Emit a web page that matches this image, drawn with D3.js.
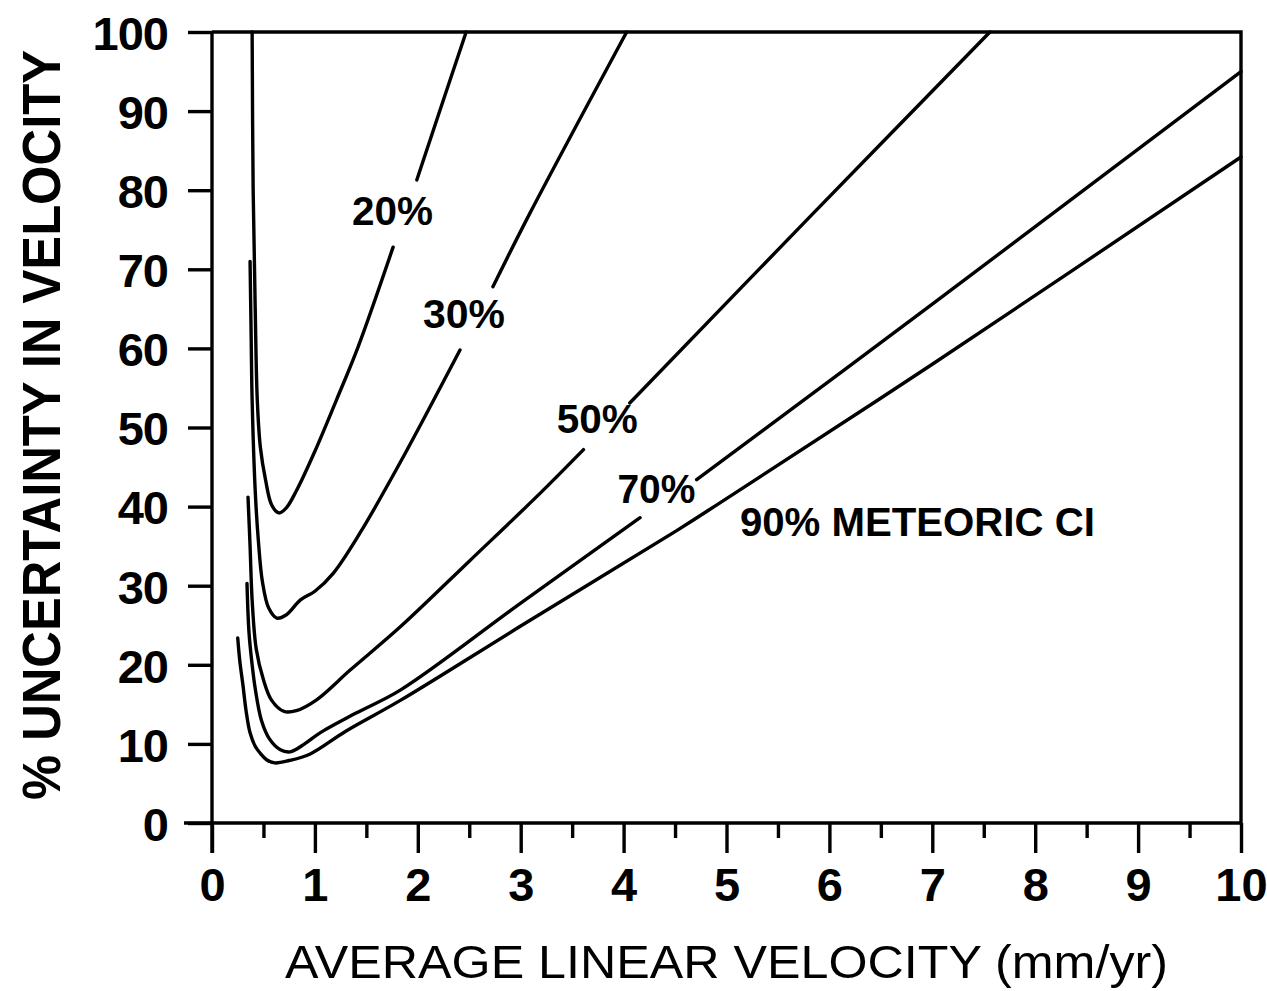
<!DOCTYPE html>
<html>
<head>
<meta charset="utf-8">
<script src="https://cdn.jsdelivr.net/npm/d3@7"></script>
<style>
  html, body { margin: 0; padding: 0; background: #fff; }
  svg { display: block; }
</style>
</head>
<body>
<svg id="chart" width="1267" height="991"></svg>
<script>
// ---------- DATA ----------
const xTickValues = [0, 1, 2, 3, 4, 5, 6, 7, 8, 9, 10];
const xMinorTickValues = [0.5, 1.5, 2.5, 3.5, 4.5, 5.5, 6.5, 7.5, 8.5, 9.5];
const yTickValues = [0, 10, 20, 30, 40, 50, 60, 70, 80, 90, 100];

const xTitle = "AVERAGE LINEAR VELOCITY (mm/yr)";
const yTitle = "% UNCERTAINTY IN VELOCITY";

// each curve is broken where its label sits
const curve20Lower = [[0.39,100],[0.40,80],[0.42,65],[0.44,53.5],[0.47,47.5],[0.52,43.4],[0.58,40.2],[0.65,39.2],[0.72,39.8],[0.82,42],[1.0,47],[1.21,53.5],[1.42,60.2],[1.76,72.8]];
const curve20Upper = [[1.99,81.3],[2.2,89.5],[2.47,100]];

const curve30Lower = [[0.37,71],[0.38,62],[0.39,53.5],[0.42,42],[0.45,35.8],[0.49,30.5],[0.55,27.2],[0.63,25.9],[0.72,26.3],[0.86,28.2],[1.0,29.3],[1.18,31.6],[1.44,36.7],[1.83,45.6],[2.41,59.8]];
const curve30Upper = [[2.73,67.8],[3.09,77.1],[4.03,100]];

const curve50Lower = [[0.35,41.2],[0.37,35],[0.39,28.2],[0.43,22],[0.50,18.1],[0.58,15.5],[0.70,14.1],[0.82,14.2],[1.02,15.6],[1.34,19.3],[1.83,24.8],[2.5,33.1],[3.19,41.7],[3.61,47.2]];
const curve50Upper = [[4.06,53.1],[5.8,76.5],[7.56,100]];

const curve70Lower = [[0.34,30.3],[0.36,24],[0.39,20],[0.42,17],[0.48,13],[0.56,10.6],[0.66,9.3],[0.76,9.0],[0.9,10.0],[1.05,11.4],[1.4,13.9],[1.83,16.8],[3.0,27.8],[4.16,38.6]];
const curve70Upper = [[4.71,43.4],[7.0,65.6],[10,95]];

const curve90 = [[0.25,23.4],[0.27,20.5],[0.30,17.5],[0.33,14.3],[0.37,11.4],[0.42,9.7],[0.47,8.8],[0.53,8.0],[0.61,7.6],[0.75,7.9],[0.95,8.7],[1.3,11.6],[1.83,15.5],[3.0,24.9],[4.52,37.0],[4.94,40.5],[7.0,58.0],[10,84.2]];

const curveSegments = [curve20Lower, curve20Upper, curve30Lower, curve30Upper,
  curve50Lower, curve50Upper, curve70Lower, curve70Upper, curve90];

// curve labels: text and anchor (data coords: left edge, baseline)
const labelTexts = ["20%", "30%", "50%", "70%", "90% METEORIC CI"];
const labelAnchorX = [1.36, 2.05, 3.35, 3.94, 5.13];
const labelAnchorY = [75.6, 62.6, 49.3, 40.5, 36.3];

// ---------- LAYOUT ----------
const svg = d3.select("#chart");
const X0 = 212, X1 = 1241, Y0 = 823, Y1 = 32;
const SW = 3.4;
const x = d3.scaleLinear().domain([0, 10]).range([X0, X1]);
const y = d3.scaleLinear().domain([0, 100]).range([Y0, Y1]);
const FONT = "'Liberation Sans', Arial, Helvetica, sans-serif";

// frame (top and right)
svg.append("path")
  .attr("d", `M${X0},${Y1}H${X1}V${Y0}`)
  .attr("fill", "none").attr("stroke", "#000").attr("stroke-width", SW);

// x axis
const gx = svg.append("g").attr("transform", `translate(0,${Y0})`)
  .call(d3.axisBottom(x).tickValues(xTickValues).tickSize(30).tickSizeOuter(0).tickFormat(d3.format("d")));
gx.select(".domain").attr("stroke-width", SW).attr("d", `M${X0 - 28},0H${X1}`);
gx.selectAll(".tick line").attr("stroke-width", SW);
gx.selectAll(".tick text")
  .attr("y", 78).attr("dy", 0)
  .attr("font-family", FONT).attr("font-size", 47).attr("font-weight", "bold").attr("fill", "#000");

const gxm = svg.append("g").attr("transform", `translate(0,${Y0})`)
  .call(d3.axisBottom(x).tickValues(xMinorTickValues).tickSize(15).tickSizeOuter(0).tickFormat(""));
gxm.select(".domain").remove();
gxm.selectAll(".tick line").attr("stroke-width", SW);

// y axis
const gy = svg.append("g").attr("transform", `translate(${X0},0)`)
  .call(d3.axisLeft(y).tickValues(yTickValues).tickSize(24).tickSizeOuter(0).tickPadding(20).tickFormat(d3.format("d")));
gy.select(".domain").attr("stroke-width", SW).attr("d", `M0,${Y0 + 30}V${Y1}`);
gy.selectAll(".tick line").attr("stroke-width", SW);
gy.selectAll(".tick text")
  .attr("dy", "0.37em")
  .attr("font-family", FONT).attr("font-size", 47).attr("font-weight", "bold").attr("fill", "#000")
  .attr("letter-spacing", -1);

// titles
svg.append("text")
  .attr("x", 285).attr("y", 978)
  .attr("font-family", FONT).attr("font-size", 47).attr("fill", "#000")
  .attr("textLength", 883).attr("lengthAdjust", "spacingAndGlyphs")
  .text(xTitle);

svg.append("text")
  .attr("transform", "translate(60,425) rotate(-90)")
  .attr("text-anchor", "middle")
  .attr("font-family", FONT).attr("font-size", 54).attr("font-weight", "bold").attr("fill", "#000")
  .attr("textLength", 750).attr("lengthAdjust", "spacingAndGlyphs")
  .text(yTitle);

// curves
const line = d3.line().x(d => x(d[0])).y(d => y(d[1])).curve(d3.curveCatmullRom.alpha(0.5));
svg.append("g").selectAll("path").data(curveSegments).join("path")
  .attr("d", line)
  .attr("fill", "none").attr("stroke", "#000").attr("stroke-width", SW)
  .attr("stroke-linejoin", "round").attr("stroke-linecap", "round");

// labels
const labelWidths = [81, 82, 81, 78, 355];
svg.append("g").selectAll("text").data(labelTexts).join("text")
  .attr("x", (d, i) => x(labelAnchorX[i]))
  .attr("y", (d, i) => y(labelAnchorY[i]))
  .attr("font-family", FONT).attr("font-size", 41).attr("font-weight", "bold").attr("fill", "#000")
  .attr("textLength", (d, i) => labelWidths[i]).attr("lengthAdjust", "spacingAndGlyphs")
  .text(d => d);
</script>
</body>
</html>
